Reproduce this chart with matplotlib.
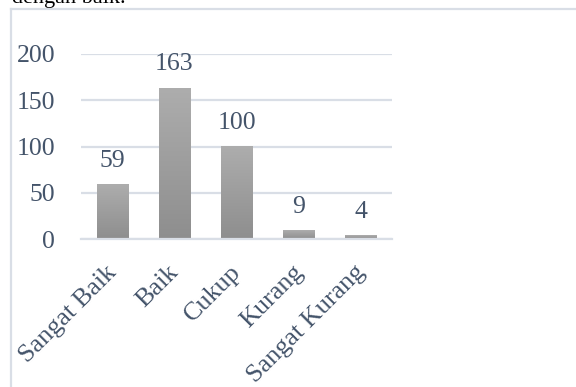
import numpy as np
import matplotlib
matplotlib.use("Agg")
import matplotlib.pyplot as plt
from matplotlib.lines import Line2D
from matplotlib.colors import LinearSegmentedColormap
from matplotlib.transforms import ScaledTranslation

categories = ["Sangat Baik", "Baik", "Cukup", "Kurang", "Sangat Kurang"]
values = [59, 163, 100, 9, 4]
yticks = [0, 50, 100, 150, 200]

W, H = 576, 387
fig = plt.figure(figsize=(W / 100, H / 100), dpi=100)
fig.patch.set_facecolor("white")

text_color = "#44546A"
grid_color = "#D9DEE6"
serif = ["Liberation Serif", "DejaVu Serif"]

# surrounding document text, running off the top edge
fig.text(12 / W, 1 - 3 / H, "dengan baik.", fontsize=16, family=serif,
         color="black", ha="left", va="baseline")

# chart frame
frame_kw = dict(color=grid_color, lw=1.6, transform=fig.transFigure)
fig.add_artist(Line2D([11 / W, 11 / W], [1 - 9 / H, 0], **frame_kw))
fig.add_artist(Line2D([11 / W, 1], [1 - 9 / H, 1 - 9 / H], **frame_kw))

ax = fig.add_axes([81 / W, 1 - 239 / H, (392 - 81) / W, (239 - 54) / H])

for s in ["top", "right", "left"]:
    ax.spines[s].set_visible(False)
ax.spines["bottom"].set_color(grid_color)
ax.spines["bottom"].set_linewidth(1.6)

ax.set_yticks(yticks)
ax.yaxis.grid(True, color=grid_color, lw=1.6)
ax.set_axisbelow(True)
ax.tick_params(axis="both", length=0, labelcolor=text_color)
ax.tick_params(axis="y", pad=18.5, labelsize=18.5)
ax.tick_params(axis="x", pad=21.5, labelsize=18.8)
for lab in ax.get_yticklabels():
    lab.set_fontfamily(serif)

x = np.arange(len(categories))
ax.set_xticks(x)
ax.set_xticklabels(categories, rotation=45, ha="right", va="center",
                   rotation_mode="anchor", family=serif)
shift = ScaledTranslation(1 / 100, 0, fig.dpi_scale_trans)
for lab in ax.get_xticklabels():
    lab.set_transform(lab.get_transform() + shift)

cmap = LinearSegmentedColormap.from_list("bar", ["#8E8E8E", "#ADADAD"])
grad = np.linspace(0, 1, 256).reshape(-1, 1)
bw = 0.5
for xi, v in zip(x, values):
    ax.imshow(grad, extent=(xi - bw / 2, xi + bw / 2, 0, v), origin="lower",
              cmap=cmap, aspect="auto", zorder=2)
    ax.annotate(str(v), (xi, v), xytext=(0, 12.8), textcoords="offset points",
                ha="center", va="baseline", fontsize=18.5, family=serif,
                color=text_color, annotation_clip=False)
ax.set_xlim(-0.5, len(categories) - 0.5)
ax.set_ylim(0, 200)

fig.savefig("out.png", dpi=100, facecolor="white")
